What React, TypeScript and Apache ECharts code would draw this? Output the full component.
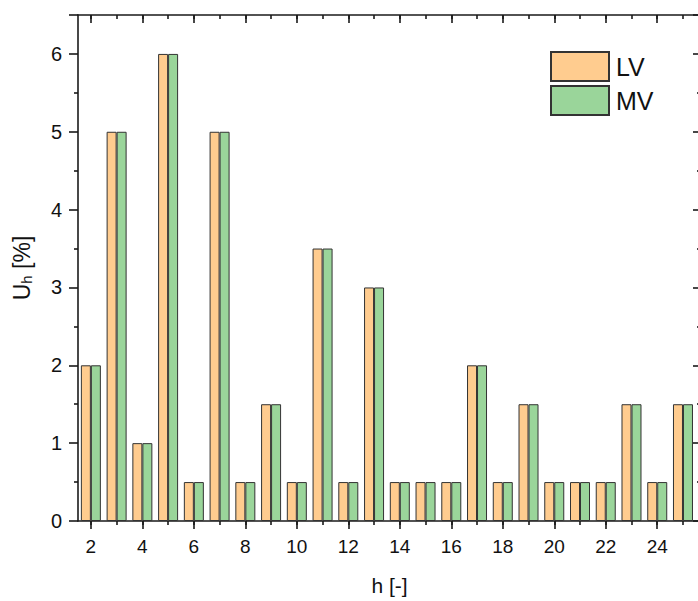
import React, { useEffect, useRef } from "react";
import * as echarts from "echarts";

const harmonics = [2, 3, 4, 5, 6, 7, 8, 9, 10, 11, 12, 13, 14, 15, 16, 17, 18, 19, 20, 21, 22, 23, 24, 25];
const lvValues = [2, 5, 1, 6, 0.5, 5, 0.5, 1.5, 0.5, 3.5, 0.5, 3, 0.5, 0.5, 0.5, 2, 0.5, 1.5, 0.5, 0.5, 0.5, 1.5, 0.5, 1.5];
const mvValues = [2, 5, 1, 6, 0.5, 5, 0.5, 1.5, 0.5, 3.5, 0.5, 3, 0.5, 0.5, 0.5, 2, 0.5, 1.5, 0.5, 0.5, 0.5, 1.5, 0.5, 1.5];
const xLabelValues = [2, 4, 6, 8, 10, 12, 14, 16, 18, 20, 22, 24];
const seriesNames = ["LV", "MV"];

const FONT = "Liberation Sans, Arial, sans-serif";
const AXIS = "#1a1a1a";

export default function App() {
  const ref = useRef<HTMLDivElement>(null);
  useEffect(() => {
    document.documentElement.style.overflow = "hidden";
    document.body.style.overflow = "hidden";
    const chart = echarts.init(ref.current!, null, { renderer: "svg" });
    const xBase = { type: "value", min: 1.5, max: 25.7, gridIndex: 0 };
    const lineStyle = { color: AXIS, width: 1.6 };
    chart.setOption({
      animation: false,
      backgroundColor: "#fff",
      grid: { left: 78, top: 15, right: 1, bottom: 79, containLabel: false },
      legend: {
        orient: "vertical",
        left: 550,
        top: 51,
        itemWidth: 58,
        itemHeight: 29,
        itemGap: 3,
        padding: 0,
        icon: "rect",
        data: seriesNames,
        textStyle: { fontSize: 25, fontFamily: FONT, color: "#111", padding: [0, 0, 0, 2] },
      },
      xAxis: [
        {
          ...xBase,
          position: "bottom",
          name: "h [-]",
          nameLocation: "middle",
          nameGap: 54,
          nameTextStyle: { fontSize: 21, fontFamily: FONT, color: "#111" },
          axisLine: { show: true, onZero: false, lineStyle },
          axisTick: { show: true, length: 4, inside: false, customValues: harmonics, lineStyle },
          axisLabel: { show: true, customValues: xLabelValues, fontSize: 19, fontFamily: FONT, color: "#111", margin: 16 },
          splitLine: { show: false },
        },
        {
          ...xBase,
          position: "bottom",
          axisLine: { show: false, onZero: false },
          axisTick: { show: true, length: 8, inside: false, customValues: xLabelValues, lineStyle },
          axisLabel: { show: false },
          splitLine: { show: false },
        },
        {
          ...xBase,
          position: "top",
          axisLine: { show: true, onZero: false, lineStyle },
          axisTick: { show: true, length: 4, inside: true, customValues: harmonics, lineStyle },
          axisLabel: { show: false },
          splitLine: { show: false },
        },
        {
          ...xBase,
          position: "top",
          axisLine: { show: false, onZero: false },
          axisTick: { show: true, length: 8, inside: true, customValues: xLabelValues, lineStyle },
          axisLabel: { show: false },
          splitLine: { show: false },
        },
      ],
      yAxis: [
        {
          type: "value",
          min: 0,
          max: 6.5,
          interval: 1,
          position: "left",
          name: "U{sub|h} [%]",
          nameLocation: "middle",
          nameGap: 44,
          nameRotate: 90,
          nameTextStyle: {
            fontSize: 23,
            fontFamily: FONT,
            color: "#111",
            rich: { sub: { fontSize: 15, fontFamily: FONT, color: "#111", verticalAlign: "bottom", padding: [9, 0, 0, 0] } },
          },
          axisLine: { show: true, lineStyle },
          axisTick: { show: true, length: 9, inside: false, lineStyle },
          minorTick: { show: true, splitNumber: 2, length: 4, lineStyle },
          axisLabel: { fontSize: 20, fontFamily: FONT, color: "#111", margin: 16, showMaxLabel: false },
          splitLine: { show: false },
          minorSplitLine: { show: false },
        },
        {
          type: "value",
          min: 0,
          max: 6.5,
          interval: 1,
          position: "right",
          axisLine: { show: true, lineStyle },
          axisTick: { show: true, length: 8, inside: true, lineStyle },
          minorTick: { show: true, splitNumber: 2, length: 4, lineStyle },
          axisLabel: { show: false },
          splitLine: { show: false },
          minorSplitLine: { show: false },
        },
      ],
      series: [
        {
          name: seriesNames[0],
          type: "bar",
          xAxisIndex: 0,
          yAxisIndex: 0,
          barWidth: 10,
          barGap: "0%",
          data: harmonics.map((h, i) => [h, lvValues[i]]),
          itemStyle: { color: "#FFCC8F", borderColor: "#333", borderWidth: 1 },
        },
        {
          name: seriesNames[1],
          type: "bar",
          xAxisIndex: 0,
          yAxisIndex: 0,
          barWidth: 10,
          barGap: "0%",
          data: harmonics.map((h, i) => [h, mvValues[i]]),
          itemStyle: { color: "#9AD59A", borderColor: "#333", borderWidth: 1 },
        },
      ],
    });
    return () => chart.dispose();
  }, []);
  return (
    <div
      ref={ref}
      style={{ position: "fixed", left: 0, top: 0, width: 702, height: 601, background: "#fff" }}
    />
  );
}
